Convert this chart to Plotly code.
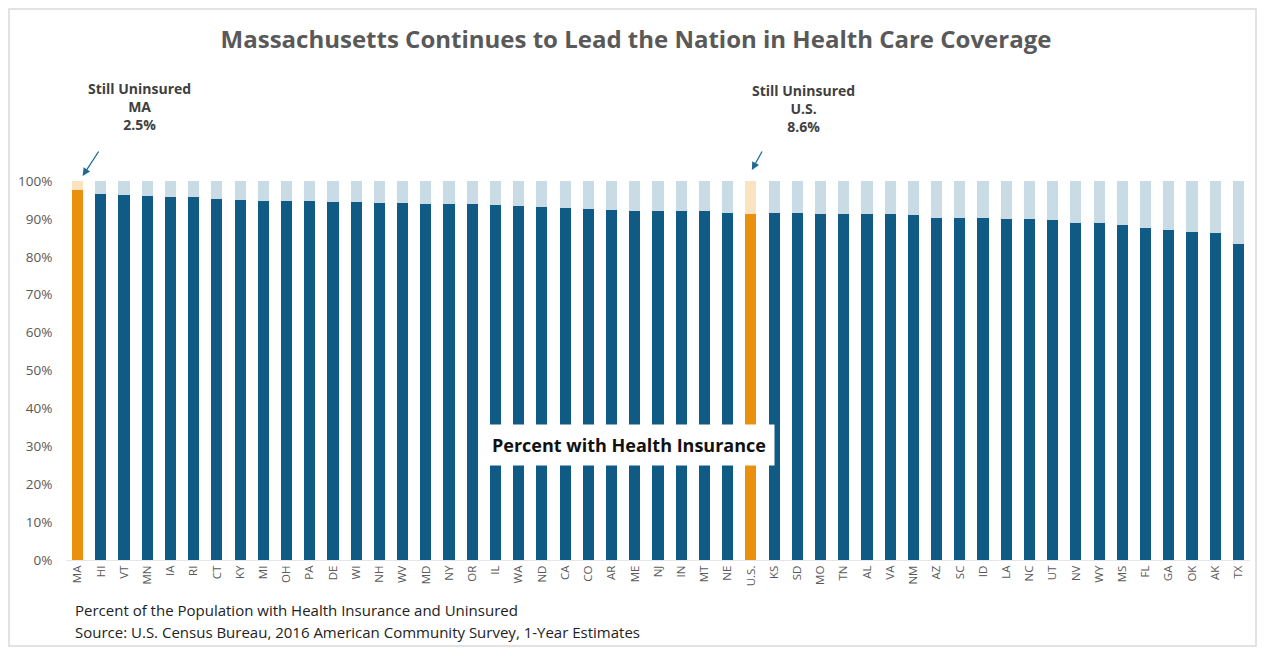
import plotly.graph_objects as go

states = ["MA", "HI", "VT", "MN", "IA", "RI", "CT", "KY", "MI", "OH", "PA", "DE", "WI", "NH",
          "WV", "MD", "NY", "OR", "IL", "WA", "ND", "CA", "CO", "AR", "ME", "NJ", "IN", "MT",
          "NE", "U.S.", "KS", "SD", "MO", "TN", "AL", "VA", "NM", "AZ", "SC", "ID", "LA", "NC",
          "UT", "NV", "WY", "MS", "FL", "GA", "OK", "AK", "TX"]
insured = [97.5, 96.6, 96.3, 96.0, 95.8, 95.8, 95.2, 95.0, 94.8, 94.6, 94.6, 94.4, 94.4, 94.2,
           94.1, 94.0, 94.0, 94.0, 93.8, 93.5, 93.2, 92.9, 92.6, 92.3, 92.1, 92.1, 92.1, 92.1,
           91.6, 91.4, 91.5, 91.5, 91.4, 91.2, 91.2, 91.2, 90.9, 90.2, 90.2, 90.2, 89.9, 89.9,
           89.6, 88.9, 88.8, 88.5, 87.6, 87.2, 86.5, 86.3, 83.5]
uninsured = [round(100 - v, 1) for v in insured]
highlight = ["MA", "U.S."]
y_ticks = list(range(0, 101, 10))
y_tick_labels = [f"{t}%" for t in y_ticks]

dark_blue = "#0f5b86"
light_blue = "#c9dce6"
orange = "#e9900f"
light_orange = "#fbe3c2"

ins_colors = [orange if s in highlight else dark_blue for s in states]
unins_colors = [light_orange if s in highlight else light_blue for s in states]

fig = go.Figure()
fig.add_trace(go.Bar(x=states, y=insured, marker=dict(color=ins_colors, line=dict(width=0)),
                     name="Percent with Health Insurance", hoverinfo="x+y"))
fig.add_trace(go.Bar(x=states, y=uninsured, marker=dict(color=unins_colors, line=dict(width=0)),
                     name="Still Uninsured", hoverinfo="x+y"))

font_family = "Open Sans"
W, H = 1250, 640
L, R, T, B = 58, 8, 173, 88
PW, PH = W - L - R, H - T - B

fig.update_layout(
    barmode="stack",
    bargap=0.52,
    width=W, height=H,
    margin=dict(l=L, r=R, t=T, b=B),
    paper_bgcolor="white", plot_bgcolor="white",
    showlegend=False,
    font=dict(family=font_family, color="#595959"),
    title=dict(text="<b>Massachusetts Continues to Lead the Nation in Health Care Coverage</b>",
               x=(636 - 8) / W, xanchor="center", y=1 - 32 / H, yanchor="middle",
               font=dict(size=24, color="#595959", family=font_family)),
    xaxis=dict(type="category", tickangle=-90, tickfont=dict(size=11.5, color="#595959"),
               showgrid=False, showline=True, linecolor="#e6e6e6", ticks="",
               range=[-0.5, len(states) - 0.5]),
    yaxis=dict(range=[0, 100], tickvals=y_ticks, ticktext=y_tick_labels,
               tickfont=dict(size=13.5, color="#595959"), showgrid=False, zeroline=False,
               ticks="outside", ticklen=10, tickcolor="rgba(0,0,0,0)", fixedrange=True),
)

ann_font = dict(size=14, color="#404040", family=font_family)
fig.add_annotation(x=0, y=(T + PH - 128) / PH, xref="x", yref="paper", xshift=62, showarrow=False,
                   text="<b>Still Uninsured<br>MA<br>2.5%</b>", font=ann_font, align="center",
                   yanchor="bottom")
fig.add_annotation(x=29, y=(T + PH - 130) / PH, xref="x", yref="paper", xshift=53, showarrow=False,
                   text="<b>Still Uninsured<br>U.S.<br>8.6%</b>", font=ann_font, align="center",
                   yanchor="bottom")
# arrows
fig.add_annotation(x=0, y=100, xref="x", yref="y", xshift=5, yshift=5, ax=17, ay=-26,
                   showarrow=True, arrowhead=2, arrowsize=1.2, arrowwidth=1.3,
                   arrowcolor="#1f6a93", standoff=0, text="")
fig.add_annotation(x=29, y=100, xref="x", yref="y", xshift=1, yshift=11, ax=11, ay=-20,
                   showarrow=True, arrowhead=2, arrowsize=1.2, arrowwidth=1.3,
                   arrowcolor="#1f6a93", standoff=0, text="")

fig.add_annotation(x=(621 - L) / PW, y=30.3, xref="paper", yref="y", showarrow=False,
                   text="<b>Percent with Health Insurance</b>",
                   font=dict(size=18, color="#111111", family=font_family),
                   bgcolor="white", borderpad=8)

foot_font = dict(size=15, color="#222222", family=font_family)
fig.add_annotation(x=(65 - L) / PW, y=(T + PH - 602) / PH, xref="paper", yref="paper",
                   xanchor="left", yanchor="middle", showarrow=False,
                   text="Percent of the Population with Health Insurance and Uninsured",
                   font=foot_font)
fig.add_annotation(x=(65 - L) / PW, y=(T + PH - 624) / PH, xref="paper", yref="paper",
                   xanchor="left", yanchor="middle", showarrow=False,
                   text="Source: U.S. Census Bureau, 2016 American Community Survey, 1-Year Estimates",
                   font=foot_font)

# chart border
fig.add_shape(type="rect", xref="paper", yref="paper",
              x0=(1 - L) / PW, x1=(W - 2 - L) / PW, y0=(T + PH - (H - 2)) / PH, y1=(T + PH - 1) / PH,
              line=dict(color="#d9d9d9", width=1.5))

fig.write_html("out.html")
